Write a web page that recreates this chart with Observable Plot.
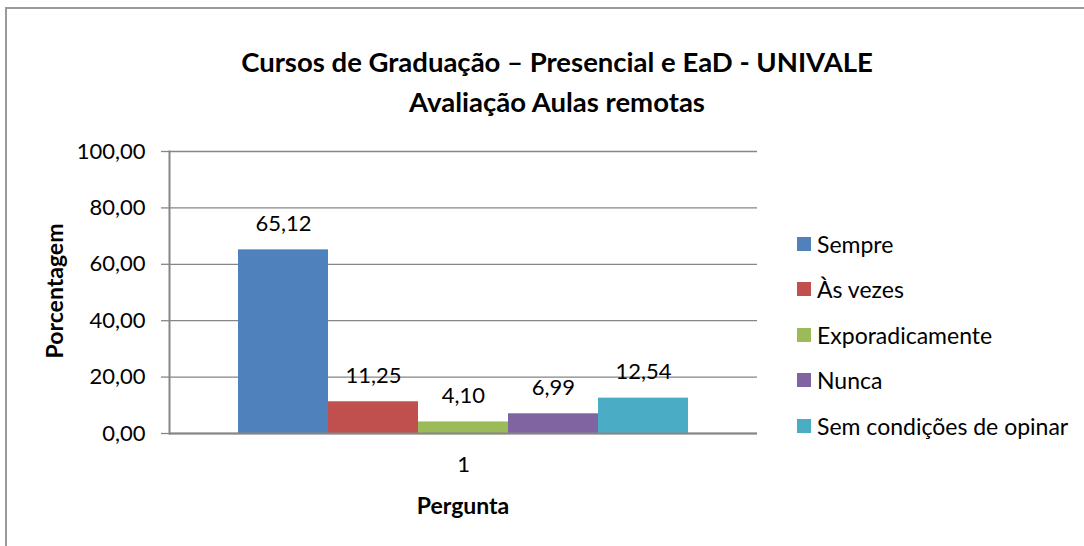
<!DOCTYPE html>
<html>
<head>
<meta charset="utf-8">
<script src="https://cdn.jsdelivr.net/npm/d3@7"></script>
<script src="https://cdn.jsdelivr.net/npm/@observablehq/plot@0.6"></script>
<style>
  html, body { margin: 0; padding: 0; background: #fff; overflow: hidden; }
  #wrap { position: relative; width: 1084px; height: 546px; font-family: Lato, "Open Sans", sans-serif; color: #000; overflow: hidden; }
  #border { position: absolute; left: 5px; top: 7px; width: 1200px; height: 700px; border: 2px solid #9a9a9a; box-sizing: border-box; }
  #chart { position: absolute; left: 0; top: 0; }
  .title { position: absolute; left: 0; width: 1114px; text-align: center; font-weight: bold; font-size: 27.5px; line-height: 1; white-space: nowrap; }
  .axt { position: absolute; font-weight: bold; font-size: 23px; line-height: 1; white-space: nowrap; }
  #legend { position: absolute; left: 797px; top: 221px; }
  .li { display: flex; align-items: center; height: 45.5px; font-size: 23px; white-space: nowrap; }
  .sw { width: 14px; height: 14px; margin-right: 6px; flex: none; }
</style>
</head>
<body>
<div id="wrap">
  <div id="border"></div>
  <div id="chart"></div>
  <div class="title" style="top:48px">Cursos de Graduação – Presencial e EaD - UNIVALE</div>
  <div class="title" style="top:88px">Avaliação Aulas remotas</div>
  <div class="axt" id="ylab" style="left:54px; top:291px; transform: translate(-50%,-50%) rotate(-90deg);">Porcentagem</div>
  <div class="axt" style="left:463px; top:505px; transform: translate(-50%,-50%);">Pergunta</div>
  <div id="legend"></div>
</div>
<script>
const series = ["Sempre", "Às vezes", "Exporadicamente", "Nunca", "Sem condições de opinar"];
const values = [65.12, 11.25, 4.10, 6.99, 12.54];
const colors = ["#4F81BD", "#C0504D", "#9BBB59", "#8064A2", "#4BACC6"];
const question = ["1"];
const yTicks = [0, 20, 40, 60, 80, 100];

const data = series.map((s, i) => ({serie: s, value: values[i]}));
const fmt = d => d.toFixed(2).replace(".", ",");

const chart = Plot.plot({
  width: 1084,
  height: 546,
  marginLeft: 169,
  marginRight: 327,
  marginTop: 151,
  marginBottom: 113,
  style: {fontFamily: "Lato, 'Open Sans', sans-serif", fontSize: "22px", color: "#000", background: "transparent"},
  x: {domain: series, paddingInner: 0, paddingOuter: 0.76, axis: null},
  y: {domain: [0, 100], axis: null},
  color: {domain: series, range: colors},
  marks: [
    Plot.gridY(yTicks, {stroke: "#868686", strokeOpacity: 1, strokeWidth: 1.3}),
    Plot.barY(data, {x: "serie", y: "value", fill: "serie"}),
    Plot.ruleY([0], {stroke: "#868686", strokeWidth: 2}),
    Plot.frame({anchor: "left", stroke: "#868686", strokeWidth: 2}),
    Plot.axisY(yTicks, {label: null, tickSize: 8, tickPadding: 16, tickFormat: fmt, stroke: "#868686", strokeWidth: 1.3, fill: "#000", fontSize: 22}),
    Plot.text(data, {x: "serie", y: "value", text: d => fmt(d.value), dy: -26, fontSize: 22, fill: "#000"}),
    Plot.text(question, {frameAnchor: "bottom", dy: 38, fontSize: 22, fill: "#000"})
  ]
});
document.getElementById("chart").appendChild(chart);

const legend = document.getElementById("legend");
series.forEach((s, i) => {
  const row = document.createElement("div");
  row.className = "li";
  const sw = document.createElement("div");
  sw.className = "sw";
  sw.style.background = colors[i];
  const t = document.createElement("span");
  t.textContent = s;
  row.appendChild(sw);
  row.appendChild(t);
  legend.appendChild(row);
});
</script>
</body>
</html>
